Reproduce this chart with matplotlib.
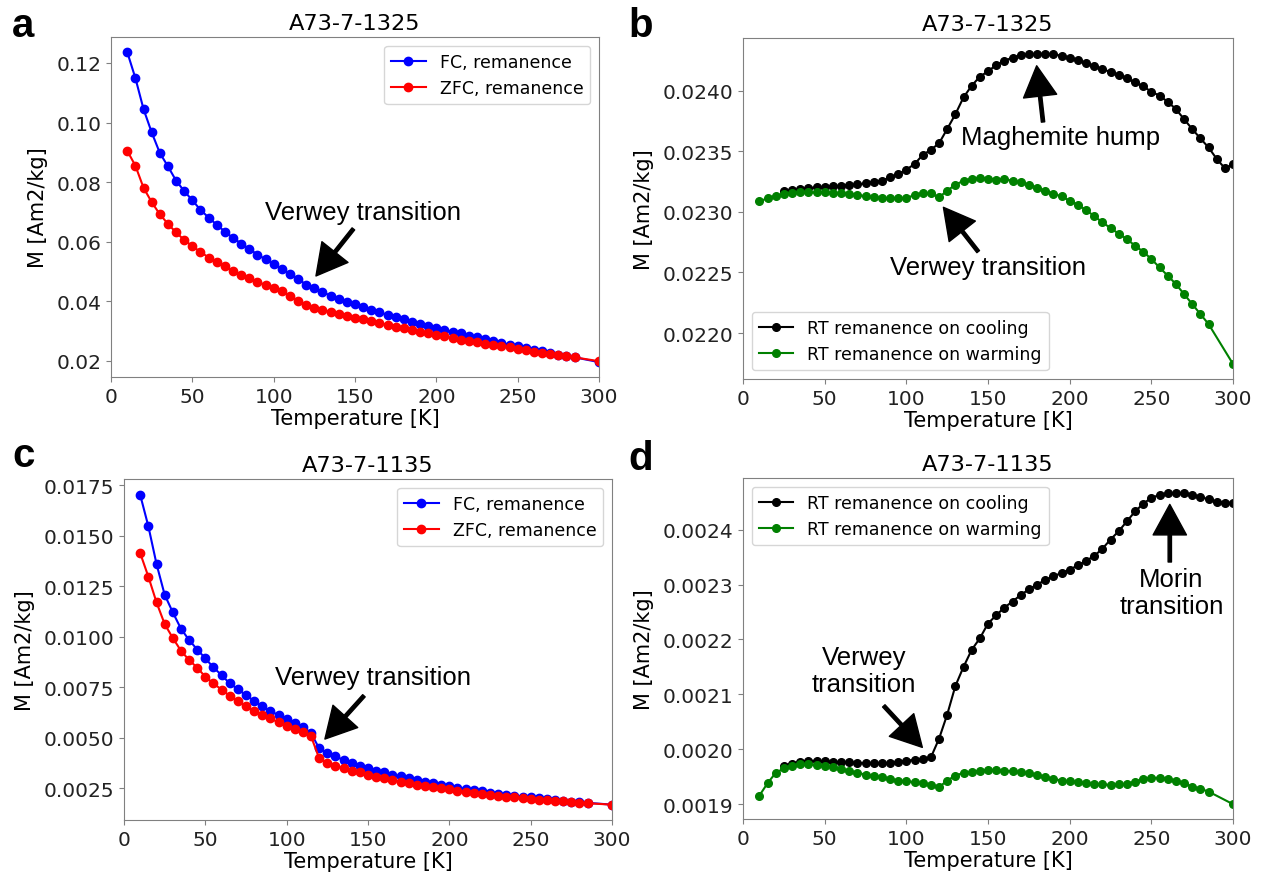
import numpy as np
import matplotlib
matplotlib.use("Agg")
import matplotlib.pyplot as plt

# ---------------- data ----------------
T_fc = list(range(10, 290, 5)) + [300]          # panels a, c and warming curves
T_cool = list(range(25, 305, 5))                 # cooling curves (b, d)

a_fc = [0.1236, 0.1149, 0.1045, 0.0967, 0.0898, 0.0853, 0.0805, 0.0770, 0.0739, 0.0707,
        0.0681, 0.0657, 0.0634, 0.0613, 0.0594, 0.0576, 0.0557, 0.0541, 0.0524, 0.0509,
        0.0493, 0.0475, 0.0456, 0.0444, 0.0431, 0.0419, 0.0408, 0.0399, 0.0390, 0.0381,
        0.0372, 0.0363, 0.0355, 0.0348, 0.0340, 0.0332, 0.0325, 0.0318, 0.0312, 0.0305,
        0.0297, 0.0292, 0.0285, 0.0280, 0.0273, 0.0266, 0.0260, 0.0255, 0.0249, 0.0244,
        0.0238, 0.0233, 0.0227, 0.0221, 0.0216, 0.0212, 0.0196]
a_zfc = [0.0905, 0.0855, 0.0781, 0.0733, 0.0692, 0.0660, 0.0631, 0.0606, 0.0585, 0.0566,
         0.0547, 0.0531, 0.0517, 0.0502, 0.0489, 0.0477, 0.0465, 0.0455, 0.0444, 0.0434,
         0.0419, 0.0402, 0.0388, 0.0379, 0.0371, 0.0364, 0.0358, 0.0351, 0.0345, 0.0339,
         0.0333, 0.0327, 0.0321, 0.0315, 0.0310, 0.0304, 0.0298, 0.0293, 0.0287, 0.0282,
         0.0276, 0.0271, 0.0267, 0.0263, 0.0258, 0.0254, 0.0249, 0.0245, 0.0240, 0.0236,
         0.0231, 0.0227, 0.0223, 0.0219, 0.0216, 0.0212, 0.0199]

b_warm = [0.023087, 0.023112, 0.023134, 0.023147, 0.023156, 0.023161, 0.023161, 0.023161,
          0.023161, 0.023158, 0.023153, 0.023150, 0.023139, 0.023131, 0.023120, 0.023114,
          0.023114, 0.023114, 0.023114, 0.023139, 0.023156, 0.023153, 0.023120, 0.023175,
          0.023224, 0.023257, 0.023274, 0.023279, 0.023274, 0.023266, 0.023269, 0.023257,
          0.023244, 0.023224, 0.023200, 0.023175, 0.023150, 0.023128, 0.023092, 0.023059,
          0.023015, 0.022966, 0.022914, 0.022867, 0.022820, 0.022776, 0.022721, 0.022672,
          0.022611, 0.022542, 0.022474, 0.022405, 0.022322, 0.022240, 0.022157, 0.022075,
          0.021745]
b_cool = [0.023169, 0.023178, 0.023186, 0.023197, 0.023202, 0.023208, 0.023211, 0.023216,
          0.023222, 0.023227, 0.023235, 0.023249, 0.023257, 0.023285, 0.023312, 0.023348,
          0.023395, 0.023469, 0.023513, 0.023565, 0.023684, 0.023805, 0.023945, 0.024041,
          0.024116, 0.024160, 0.024212, 0.024248, 0.024272, 0.024294, 0.024300, 0.024305,
          0.024305, 0.024300, 0.024289, 0.024272, 0.024250, 0.024226, 0.024201, 0.024179,
          0.024154, 0.024129, 0.024102, 0.024069, 0.024036, 0.023992, 0.023959, 0.023909,
          0.023849, 0.023766, 0.023684, 0.023607, 0.023532, 0.023438, 0.023360, 0.023392]

c_fc = [0.01700, 0.01545, 0.01359, 0.01207, 0.01120, 0.01039, 0.00983, 0.00936, 0.00892,
        0.00847, 0.00809, 0.00768, 0.00740, 0.00709, 0.00682, 0.00654, 0.00631, 0.00611,
        0.00592, 0.00572, 0.00554, 0.00522, 0.00446, 0.00423, 0.00407, 0.00389, 0.00374,
        0.00361, 0.00349, 0.00337, 0.00328, 0.00316, 0.00308, 0.00298, 0.00290, 0.00281,
        0.00273, 0.00265, 0.00258, 0.00252, 0.00245, 0.00239, 0.00234, 0.00227, 0.00222,
        0.00217, 0.00212, 0.00207, 0.00204, 0.00199, 0.00194, 0.00191, 0.00187, 0.00182,
        0.00179, 0.00177, 0.00168]
c_zfc = [0.01412, 0.01296, 0.01169, 0.01062, 0.00993, 0.00930, 0.00884, 0.00846, 0.00801,
         0.00768, 0.00737, 0.00707, 0.00679, 0.00654, 0.00633, 0.00613, 0.00595, 0.00575,
         0.00559, 0.00542, 0.00526, 0.00506, 0.00397, 0.00374, 0.00361, 0.00349, 0.00337,
         0.00328, 0.00316, 0.00306, 0.00298, 0.00290, 0.00281, 0.00275, 0.00267, 0.00260,
         0.00253, 0.00248, 0.00243, 0.00237, 0.00232, 0.00227, 0.00222, 0.00217, 0.00212,
         0.00207, 0.00204, 0.00200, 0.00196, 0.00192, 0.00189, 0.00187, 0.00184, 0.00181,
         0.00177, 0.00175, 0.00168]

d_warm = [0.0019155, 0.001938, 0.001957, 0.001965, 0.001970, 0.001973, 0.001973, 0.001971,
          0.001969, 0.001967, 0.001964, 0.001960, 0.001957, 0.001954, 0.001951, 0.001949,
          0.001946, 0.001943, 0.001942, 0.001940, 0.001938, 0.001935, 0.001931, 0.001943,
          0.001952, 0.001957, 0.001959, 0.001961, 0.001962, 0.001962, 0.001961, 0.001960,
          0.001958, 0.001956, 0.001953, 0.001949, 0.001946, 0.001943, 0.001942, 0.001940,
          0.001938, 0.001937, 0.001936, 0.001935, 0.001936, 0.001937, 0.001941, 0.001946,
          0.001948, 0.001948, 0.001946, 0.001943, 0.001938, 0.001932, 0.001928, 0.001923,
          0.001900]
d_cool = [0.001970, 0.001974, 0.001977, 0.001979, 0.001979, 0.001978, 0.001977, 0.001976,
          0.001976, 0.001975, 0.001975, 0.001975, 0.001975, 0.001975, 0.001977, 0.001979,
          0.001981, 0.001982, 0.001985, 0.002019, 0.002063, 0.002115, 0.002150, 0.002181,
          0.002202, 0.002229, 0.002244, 0.002258, 0.002269, 0.002281, 0.002291, 0.002300,
          0.002308, 0.002315, 0.002321, 0.002327, 0.002335, 0.002343, 0.002352, 0.002365,
          0.002382, 0.002397, 0.002415, 0.002433, 0.002447, 0.002458, 0.002463, 0.002466,
          0.002467, 0.002466, 0.002463, 0.002460, 0.002455, 0.002451, 0.002449, 0.002449]

titles = ["A73-7-1325", "A73-7-1325", "A73-7-1135", "A73-7-1135"]
panel_letters = ["a", "b", "c", "d"]
x_label = "Temperature [K]"
y_label = "M [Am2/kg]"

# ---------------- style ----------------
plt.rcParams['font.family'] = ['DejaVu Sans']
TICK_FS = 14.5
LAB_FS = 15
TIT_FS = 16.2
LEG_FS = 12.5
ANN_FS = 18.5
ANN_FONT = 'Liberation Sans'
SPINE_C = '0.5'

W, H = 1265, 879
fig = plt.figure(figsize=(W / 100, H / 100), dpi=100)


def box(l, r, t, b):
    return [l / W, (H - b) / H, (r - l) / W, (b - t) / H]


axes = [fig.add_axes(box(111, 599, 38, 378)),
        fig.add_axes(box(743, 1233, 39, 380)),
        fig.add_axes(box(124, 612, 480, 821)),
        fig.add_axes(box(743, 1233, 479, 820))]
ylims = [(0.0146, 0.1287), (0.021621, 0.024435), (0.00092, 0.0178), (0.001873, 0.002494)]

arrow_kw = dict(facecolor='black', edgecolor='black', width=2.4, headwidth=24,
                headlength=22, shrink=0)

# a
ax = axes[0]
ax.plot(T_fc, a_fc, 'o-', color='blue', ms=6, lw=1.5, label='FC, remanence')
ax.plot(T_fc, a_zfc, 'o-', color='red', ms=6, lw=1.5, label='ZFC, remanence')
ax.legend(loc='upper right', fontsize=LEG_FS)
ax.annotate('', xy=(126, 0.0485), xytext=(149, 0.0643), arrowprops=arrow_kw)
ax.text(155, 0.0700, 'Verwey transition', fontsize=ANN_FS, family=ANN_FONT,
        ha='center', va='center')

# b
ax = axes[1]
ax.plot(T_cool, b_cool, 'o-', color='black', ms=5.5, lw=1.5, label='RT remanence on cooling')
ax.plot(T_fc, b_warm, 'o-', color='green', ms=5.5, lw=1.5, label='RT remanence on warming')
ax.legend(loc='lower left', fontsize=LEG_FS)
ax.annotate('', xy=(179.8, 0.024206), xytext=(183.7, 0.023742), arrowprops=arrow_kw)
ax.text(194.7, 0.023618, 'Maghemite hump', fontsize=ANN_FS, family=ANN_FONT,
        ha='center', va='center')
ax.annotate('', xy=(122.7, 0.023038), xytext=(144, 0.022672), arrowprops=arrow_kw)
ax.text(149.8, 0.022543, 'Verwey transition', fontsize=ANN_FS, family=ANN_FONT,
        ha='center', va='center')

# c
ax = axes[2]
ax.plot(T_fc, c_fc, 'o-', color='blue', ms=6, lw=1.5, label='FC, remanence')
ax.plot(T_fc, c_zfc, 'o-', color='red', ms=6, lw=1.5, label='ZFC, remanence')
ax.legend(loc='upper right', fontsize=LEG_FS)
ax.annotate('', xy=(123.5, 0.004926), xytext=(147.5, 0.007069), arrowprops=arrow_kw)
ax.text(152.8, 0.00798, 'Verwey transition', fontsize=ANN_FS, family=ANN_FONT,
        ha='center', va='center')

# d
ax = axes[3]
ax.plot(T_cool, d_cool, 'o-', color='black', ms=5.5, lw=1.5, label='RT remanence on cooling')
ax.plot(T_fc, d_warm, 'o-', color='green', ms=5.5, lw=1.5, label='RT remanence on warming')
ax.legend(loc='upper left', fontsize=LEG_FS)
ax.annotate('', xy=(109.8, 0.0020034), xytext=(86.2, 0.002079), arrowprops=arrow_kw)
ax.text(73.9, 0.002143, 'Verwey\ntransition', fontsize=ANN_FS, family=ANN_FONT,
        ha='center', va='center', linespacing=1.15)
ax.annotate('', xy=(261.3, 0.002446), xytext=(261.3, 0.002341), arrowprops=arrow_kw)
ax.text(262.3, 0.002285, 'Morin\ntransition', fontsize=ANN_FS, family=ANN_FONT,
        ha='center', va='center', linespacing=1.15)

for ax, t, yl in zip(axes, titles, ylims):
    ax.set_xlim(0, 300)
    ax.set_ylim(*yl)
    ax.set_xticks([0, 50, 100, 150, 200, 250, 300])
    ax.set_title(t, fontsize=TIT_FS, pad=6)
    ax.set_xlabel(x_label, fontsize=LAB_FS, labelpad=2)
    ax.set_ylabel(y_label, fontsize=LAB_FS, labelpad=6)
    ax.tick_params(labelsize=TICK_FS, color=SPINE_C, labelcolor='#222222')
    for s in ax.spines.values():
        s.set_color(SPINE_C)

# panel letters
for (x, y), L in zip([(12, 37), (628, 37), (12, 467), (628, 470)], panel_letters):
    fig.text(x / W, 1 - y / H, L, fontsize=29, fontweight='bold', family=ANN_FONT,
             ha='left', va='baseline')

fig.savefig('out.png', dpi=100)
